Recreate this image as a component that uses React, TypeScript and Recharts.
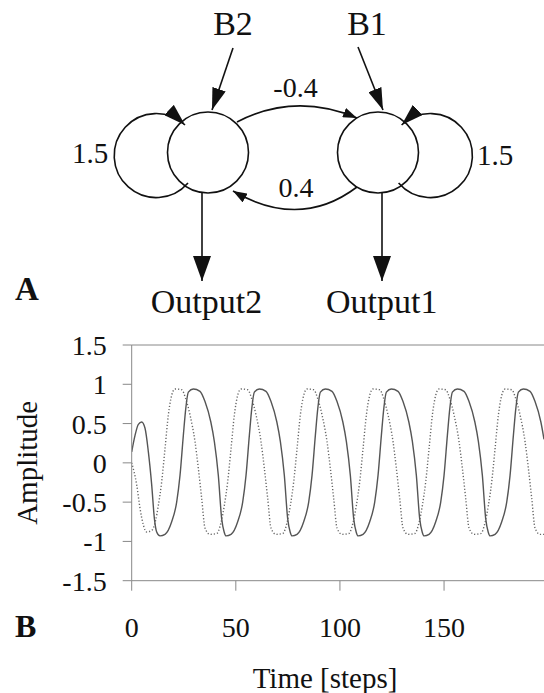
import { LineChart, Line, XAxis, YAxis, ReferenceLine, Label } from 'recharts'

const FONT = '"Liberation Serif", "Times New Roman", serif'

// axis ticks
const stepTicks = [0, 50, 100, 150]
const ampTicks = [-1.5, -1, -0.5, 0, 0.5, 1, 1.5]

// solid trace, [step, amplitude]
const output1: [number, number][] = [
  [0, 0.14], [1.6, 0.35], [3.2, 0.49], [4.8, 0.52], [6.4, 0.44], [8, 0.14], [9.6, -0.28], [10.9, -0.71], [12, -0.88],
  [13.6, -0.93], [16, -0.91], [19.2, -0.75], [21.6, -0.5], [23.2, -0.16], [24.8, 0.35], [26, 0.7], [27.2, 0.9],
  [29.6, 0.94], [32.8, 0.91], [35.2, 0.78], [38, 0.52], [39.7, 0.27], [41.6, -0.16], [43.2, -0.71], [44.4, -0.88],
  [45.3, -0.93], [47.7, -0.91], [50.9, -0.75], [53.3, -0.5], [54.9, -0.16], [56.5, 0.35], [57.7, 0.7], [58.9, 0.9],
  [61.3, 0.94], [64.5, 0.91], [66.9, 0.78], [69.7, 0.52], [71.4, 0.27], [73.3, -0.16], [74.9, -0.71], [76.1, -0.88],
  [77, -0.93], [79.4, -0.91], [82.6, -0.75], [85, -0.5], [86.6, -0.16], [88.2, 0.35], [89.4, 0.7], [90.6, 0.9],
  [93, 0.94], [96.2, 0.91], [98.6, 0.78], [101.4, 0.52], [103.1, 0.27], [105, -0.16], [106.6, -0.71], [107.8, -0.88],
  [108.7, -0.93], [111.1, -0.91], [114.3, -0.75], [116.7, -0.5], [118.3, -0.16], [119.9, 0.35], [121.1, 0.7], [122.3, 0.9],
  [124.7, 0.94], [127.9, 0.91], [130.3, 0.78], [133.1, 0.52], [134.8, 0.27], [136.7, -0.16], [138.3, -0.71], [139.5, -0.88],
  [140.4, -0.93], [142.8, -0.91], [146, -0.75], [148.4, -0.5], [150, -0.16], [151.6, 0.35], [152.8, 0.7], [154, 0.9],
  [156.4, 0.94], [159.6, 0.91], [162, 0.78], [164.8, 0.52], [166.5, 0.27], [168.4, -0.16], [170, -0.71], [171.2, -0.88],
  [172.1, -0.93], [174.5, -0.91], [177.7, -0.75], [180.1, -0.5], [181.7, -0.16], [183.3, 0.35], [184.5, 0.7], [185.7, 0.9],
  [188.1, 0.94], [191.3, 0.91], [193.7, 0.78], [196.5, 0.52], [198, 0.3],
]

// dotted trace
const output2: [number, number][] = [
  [0, 0], [2.4, -0.28], [4, -0.58], [5.6, -0.79], [7.2, -0.88], [9.6, -0.86], [11.5, -0.73],
  [12.8, -0.54], [14.4, -0.24], [16, 0.18], [17.6, 0.61], [19.2, 0.86], [20.8, 0.94], [24, 0.93], [25.9, 0.82],
  [28, 0.61], [30.4, 0.27], [32, -0.07], [33.6, -0.45], [35.2, -0.83], [37.6, -0.91], [40.8, -0.9], [42.9, -0.76],
  [44.5, -0.54], [46.1, -0.24], [47.7, 0.18], [49.3, 0.61], [50.9, 0.86], [52.5, 0.94], [55.7, 0.93], [57.6, 0.82],
  [59.7, 0.61], [62.1, 0.27], [63.7, -0.07], [65.3, -0.45], [66.9, -0.83], [69.3, -0.91], [72.5, -0.9], [74.6, -0.76],
  [76.2, -0.54], [77.8, -0.24], [79.4, 0.18], [81, 0.61], [82.6, 0.86], [84.2, 0.94], [87.4, 0.93], [89.3, 0.82],
  [91.4, 0.61], [93.8, 0.27], [95.4, -0.07], [97, -0.45], [98.6, -0.83], [101, -0.91], [104.2, -0.9], [106.3, -0.76],
  [107.9, -0.54], [109.5, -0.24], [111.1, 0.18], [112.7, 0.61], [114.3, 0.86], [115.9, 0.94], [119.1, 0.93], [121, 0.82],
  [123.1, 0.61], [125.5, 0.27], [127.1, -0.07], [128.7, -0.45], [130.3, -0.83], [132.7, -0.91], [135.9, -0.9], [138, -0.76],
  [139.6, -0.54], [141.2, -0.24], [142.8, 0.18], [144.4, 0.61], [146, 0.86], [147.6, 0.94], [150.8, 0.93], [152.7, 0.82],
  [154.8, 0.61], [157.2, 0.27], [158.8, -0.07], [160.4, -0.45], [162, -0.83], [164.4, -0.91], [167.6, -0.9], [169.7, -0.76],
  [171.3, -0.54], [172.9, -0.24], [174.5, 0.18], [176.1, 0.61], [177.7, 0.86], [179.3, 0.94], [182.5, 0.93], [184.4, 0.82],
  [186.5, 0.61], [188.9, 0.27], [190.5, -0.07], [192.1, -0.45], [193.7, -0.83], [196.1, -0.91], [198, -0.91],
]

const toRows = (pts: [number, number][]) => pts.map(([t, v]) => ({ t, v }))

// panel A: the two-neuron network sketch
const Network = () => (
  <svg width={544} height={693} style={{ position: 'absolute', left: 0, top: 0 }} fontFamily={FONT}>
    <defs>
      <marker id="head" viewBox="0 0 22 14" refX="22" refY="7" markerWidth="22" markerHeight="14" orient="auto" markerUnits="userSpaceOnUse">
        <path d="M0,0 L22,7 L0,14 Z" fill="#111" />
      </marker>
      <marker id="headBig" viewBox="0 0 25 18" refX="25" refY="9" markerWidth="25" markerHeight="18" orient="auto" markerUnits="userSpaceOnUse">
        <path d="M0,0 L25,9 L0,18 Z" fill="#111" />
      </marker>
      <marker id="headSm" viewBox="0 0 14 10" refX="14" refY="5" markerWidth="14" markerHeight="10" orient="auto" markerUnits="userSpaceOnUse">
        <path d="M0,0 L14,5 L0,10 Z" fill="#111" />
      </marker>
    </defs>
    <g fill="none" stroke="#111" strokeWidth={1.6}>
      <circle cx={208} cy={152.5} r={40.5} />
      <circle cx={378} cy={152.5} r={40.5} />
      <line x1={233} y1={48} x2={212} y2={110} markerEnd="url(#head)" />
      <line x1={358} y1={47} x2={383} y2={110} markerEnd="url(#head)" />
      <line x1={202} y1={193} x2={202} y2={281} markerEnd="url(#headBig)" />
      <line x1={382} y1={193} x2={382} y2={281} markerEnd="url(#headBig)" />
      <path d="M237 122 Q295 92 357 118" markerEnd="url(#headSm)" />
      <path d="M357 187 Q300 230 233 191" markerEnd="url(#headSm)" />
      <path d="M188 183 A42 42 0 1 1 185 125" markerEnd="url(#head)" />
      <path d="M398.6 183 A42 42 0 1 0 401.6 125" markerEnd="url(#head)" />
    </g>
    <g fill="#111" textAnchor="middle">
      <text x={233} y={35} fontSize={34}>B2</text>
      <text x={367} y={35} fontSize={34}>B1</text>
      <text x={295.5} y={97} fontSize={28}>-0.4</text>
      <text x={296} y={197} fontSize={28}>0.4</text>
      <text x={90} y={163} fontSize={29}>1.5</text>
      <text x={495} y={165} fontSize={29}>1.5</text>
      <text x={206.5} y={313} fontSize={34}>Output2</text>
      <text x={381.7} y={313} fontSize={34}>Output1</text>
    </g>
    <text x={15} y={300} fontSize={33} fontWeight="bold" fill="#111">A</text>
    <text x={15} y={637} fontSize={32} fontWeight="bold" fill="#111">B</text>
  </svg>
)

export default function App() {
  const tickStyle = { fill: '#111', fontSize: 28, fontFamily: FONT }
  return (
    <div style={{ position: 'fixed', left: 0, top: 0, width: 544, height: 693, background: '#fff', overflow: 'hidden' }}>
      <LineChart width={544} height={693} margin={{ top: 345, right: 0, bottom: 0, left: 0 }} style={{ position: 'absolute', left: 0, top: 0 }}>
        <XAxis
          dataKey="t"
          type="number"
          domain={[0, 198]}
          ticks={stepTicks}
          height={112.3}
          tickSize={10}
          tickMargin={26}
          stroke="#888"
          tick={tickStyle}
          allowDataOverflow
        >
          <Label
            content={() => (
              <text x={325} y={688} textAnchor="middle" fontSize={29} fontFamily={FONT} fill="#111">
                Time [steps]
              </text>
            )}
          />
        </XAxis>
        <YAxis
          type="number"
          domain={[-1.5, 1.5]}
          ticks={ampTicks}
          width={131.7}
          tickSize={9}
          tickMargin={16}
          stroke="#888"
          tick={tickStyle}
        >
          <Label
            content={({ viewBox }: any) => {
              const cy = viewBox.y + viewBox.height / 2
              return (
                <text x={37} y={cy} transform={`rotate(-90 37 ${cy})`} textAnchor="middle" fontSize={29} fontFamily={FONT} fill="#111">
                  Amplitude
                </text>
              )
            }}
          />
        </YAxis>
        <ReferenceLine y={1.5} stroke="#888" />
        <Line data={toRows(output2)} dataKey="v" type="monotone" stroke="#666" strokeWidth={1.4} strokeDasharray="1.2 2" dot={false} isAnimationActive={false} />
        <Line data={toRows(output1)} dataKey="v" type="monotone" stroke="#555" strokeWidth={1.4} dot={false} isAnimationActive={false} />
      </LineChart>
      <Network />
    </div>
  )
}
